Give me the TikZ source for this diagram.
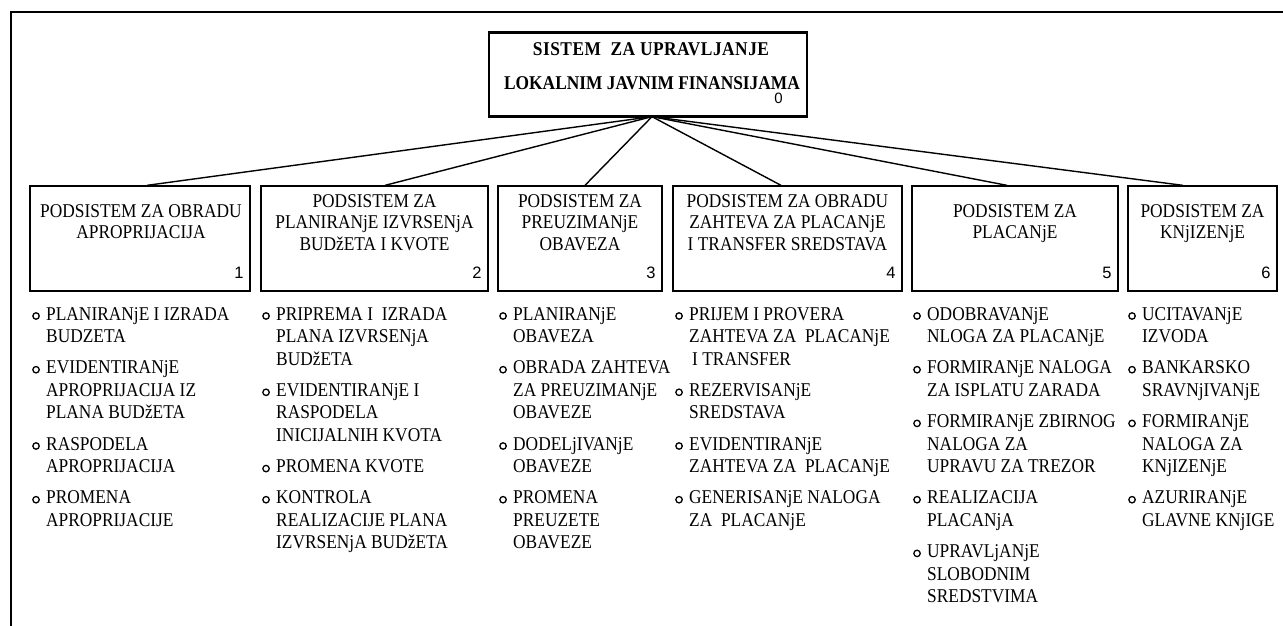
\documentclass[tikz,border=0pt]{standalone}
\usepackage{fontspec}
\setmainfont{Liberation Serif}[FakeStretch=0.89]
\newfontfamily\numfont{Liberation Sans}
\usetikzlibrary{calc}

% small ring used as list bullet
\newcommand\ringbul{\tikz[baseline=0pt]\draw[line width=1.3pt] (0,4pt) circle[radius=3.2pt];}
% one list entry with hanging indent
\newcommand\itm[1]{\par\hangindent=14pt\hangafter=1\noindent\makebox[14pt][l]{\ringbul}#1}
% a whole list, first baseline at the node's base
\newcommand\tasklist[1]{\parbox[t]{250pt}{\setlength\parskip{8.5pt}%
  \fontsize{19.5}{22.6}\selectfont #1\par}}
% subsystem title block
\newcommand\subtitle[1]{\parbox[t]{240pt}{\centering\fontsize{19.5}{21.5}\selectfont #1}}

\begin{document}
\begin{tikzpicture}[x=1pt,y=-1pt,
  subbox/.style={draw,line width=1.3pt,minimum height=105pt,inner sep=0pt},
  ttl/.style={anchor=base,inner sep=0pt},
  num/.style={anchor=base east,inner sep=0pt,font=\numfont\fontsize{16.5}{18}\selectfont},
  lst/.style={anchor=base west,inner sep=0pt},
  link/.style={line width=1.4pt}]
\useasboundingbox (0,0) rectangle (1283,626);

% outer frame (top and left edges)
\draw[line width=2pt] (11,640) -- (11,12) -- (1300,12);

% top-level system
\node[draw,line width=1.3pt,minimum width=318pt,minimum height=83pt,inner sep=0pt] (root) at (648,74.5) {};
\draw[line width=3pt] (root.north west) -- (root.north east);
\draw[line width=3pt] (root.south west) -- (root.south east);
\node[ttl] (rootA) at (651,56) {\fontsize{19.5}{22}\selectfont\bfseries\addfontfeatures{LetterSpace=2.5}SISTEM\ \ ZA UPRAVLJANJE};
\node[ttl] (rootB) at (652,89) {\fontsize{19.5}{22}\selectfont\bfseries LOKALNIM JAVNIM FINANSIJAMA};
\node[num,font=\numfont\fontsize{15}{17}\selectfont] (root0) at (783,103) {0};
\coordinate (apex) at ($(root.south)+(4,0)$);

% subsystem boxes
\node[subbox,minimum width=220pt] (b1) at (140,238.5) {};
\node[subbox,minimum width=227pt] (b2) at (374.5,238.5) {};
\node[subbox,minimum width=164pt] (b3) at (580,238.5) {};
\node[subbox,minimum width=229pt] (b4) at (787.5,238.5) {};
\node[subbox,minimum width=206pt] (b5) at (1015,238.5) {};
\node[subbox,minimum width=149pt] (b6) at (1202.5,238.5) {};

% connectors
\draw[link] (apex) -- ($(b1.north)+(7,0)$);
\draw[link] (apex) -- ($(b2.north)+(10.5,0)$);
\draw[link] (apex) -- ($(b3.north)+(5,0)$);
\draw[link] (apex) -- ($(b4.north)+(-6.5,0)$);
\draw[link] (apex) -- ($(b5.north)+(-8,0)$);
\draw[link] (apex) -- ($(b6.north)+(-19.5,0)$);

% titles
\node[ttl] (t1) at ($(b1.north)+(1,32)$) {\subtitle{PODSISTEM ZA OBRADU\\APROPRIJACIJA}};
\node[ttl] (t2) at ($(b2.north)+(0,22)$) {\subtitle{PODSISTEM ZA\\PLANIRANjE IZVRSENjA\\BUDžETA I KVOTE}};
\node[ttl] (t3) at ($(b3.north)+(0,22)$) {\subtitle{PODSISTEM ZA\\PREUZIMANjE\\OBAVEZA}};
\node[ttl] (t4) at ($(b4.north)+(0,22)$) {\subtitle{PODSISTEM ZA OBRADU\\ZAHTEVA ZA PLACANjE\\I TRANSFER SREDSTAVA}};
\node[ttl] (t5) at ($(b5.north)+(0,32)$) {\subtitle{PODSISTEM ZA\\PLACANjE}};
\node[ttl] (t6) at ($(b6.north)+(0,32)$) {\subtitle{PODSISTEM ZA\\KNjIZENjE}};

% box numbers
\node[num] (n1) at ($(b1.south east)+(-7,-13)$) {1};
\node[num] (n2) at ($(b2.south east)+(-7,-13)$) {2};
\node[num] (n3) at ($(b3.south east)+(-7,-13)$) {3};
\node[num] (n4) at ($(b4.south east)+(-7,-13)$) {4};
\node[num] (n5) at ($(b5.south east)+(-7,-13)$) {5};
\node[num] (n6) at ($(b6.south east)+(-7,-13)$) {6};

% activity lists
\node[lst] (l1) at (32,320) {\tasklist{%
  \itm{PLANIRANjE I IZRADA\newline BUDZETA}
  \itm{EVIDENTIRANjE\newline APROPRIJACIJA IZ\newline PLANA BUDžETA}
  \itm{RASPODELA\newline APROPRIJACIJA}
  \itm{PROMENA\newline APROPRIJACIJE}}};
\node[lst] (l2) at (262,320) {\tasklist{%
  \itm{PRIPREMA I\ \ IZRADA\newline PLANA IZVRSENjA\newline BUDžETA}
  \itm{EVIDENTIRANjE I\newline RASPODELA\newline INICIJALNIH KVOTA}
  \itm{PROMENA KVOTE}
  \itm{KONTROLA\newline REALIZACIJE PLANA\newline IZVRSENjA BUDžETA}}};
\node[lst] (l3) at (499,320) {\tasklist{%
  \itm{PLANIRANjE\newline OBAVEZA}
  \itm{OBRADA ZAHTEVA\newline ZA PREUZIMANjE\newline OBAVEZE}
  \itm{DODELjIVANjE\newline OBAVEZE}
  \itm{PROMENA\newline PREUZETE\newline OBAVEZE}}};
\node[lst] (l4) at (675,320) {\tasklist{%
  \itm{PRIJEM I PROVERA\newline ZAHTEVA ZA\ \ PLACANjE\newline\hspace*{3pt}I TRANSFER}
  \itm{REZERVISANjE\newline SREDSTAVA}
  \itm{EVIDENTIRANjE\newline ZAHTEVA ZA\ \ PLACANjE}
  \itm{GENERISANjE NALOGA\newline ZA\ \ PLACANjE}}};
\node[lst] (l5) at (913,320) {\tasklist{%
  \itm{ODOBRAVANjE\newline NLOGA ZA PLACANjE}
  \itm{FORMIRANjE NALOGA\newline ZA ISPLATU ZARADA}
  \itm{FORMIRANjE ZBIRNOG\newline NALOGA ZA\newline UPRAVU ZA TREZOR}
  \itm{REALIZACIJA\newline PLACANjA}
  \itm{UPRAVLjANjE\newline SLOBODNIM\newline SREDSTVIMA}}};
\node[lst] (l6) at (1128,320) {\tasklist{%
  \itm{UCITAVANjE\newline IZVODA}
  \itm{BANKARSKO\newline SRAVNjIVANjE}
  \itm{FORMIRANjE\newline NALOGA ZA\newline KNjIZENjE}
  \itm{AZURIRANjE\newline GLAVNE KNjIGE}}};
\end{tikzpicture}
\end{document}
